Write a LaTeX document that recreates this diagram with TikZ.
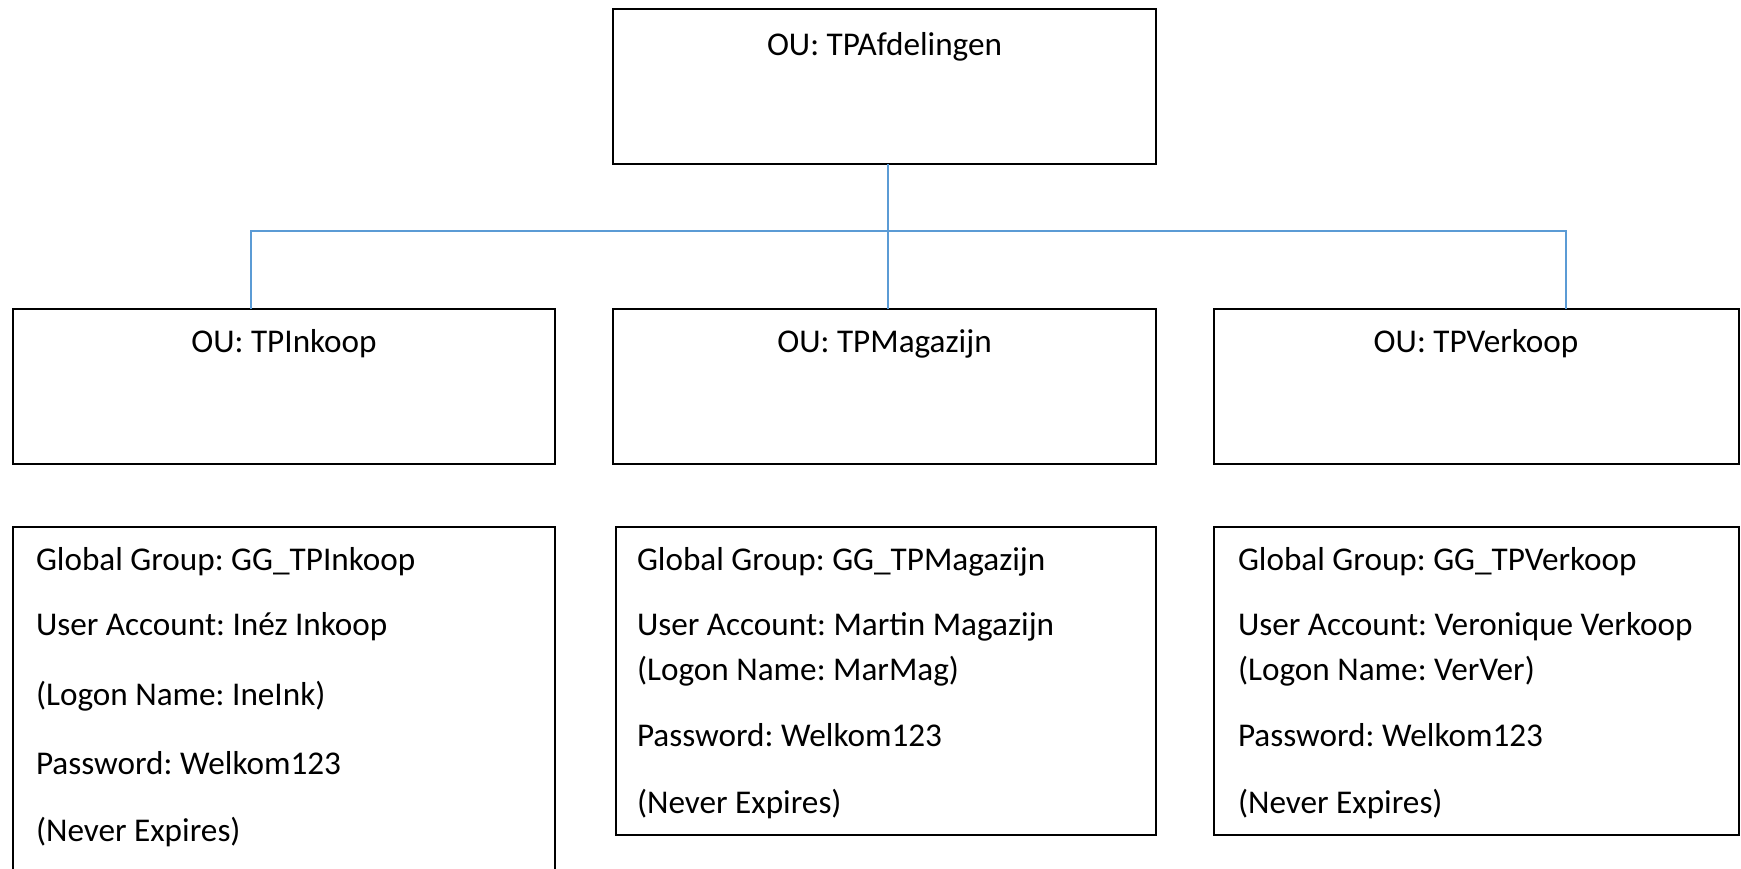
\documentclass[tikz,border=0pt]{standalone}
\usepackage{fontspec}
\setmainfont{Carlito}
\frenchspacing
\begin{document}
\begin{tikzpicture}[x=0.5pt,y=-0.5pt,
  box/.style={draw=black,line width=1pt,inner sep=0pt,outer sep=0pt,anchor=north west},
  txt/.style={inner sep=0pt,outer sep=0pt,font=\fontsize{16.6pt}{20pt}\selectfont,text height=0.72em,text depth=0.22em},
  link/.style={draw=linkblue,line width=0.8pt}]
\definecolor{linkblue}{HTML}{5B9BD5}
\clip (0,0) rectangle (1741,868);
% boxes
\node[box,minimum width=271.5pt,minimum height=77.5pt] (top) at (613,9) {};
\node[box,minimum width=271pt,minimum height=77.5pt] (ink) at (13,309) {};
\node[box,minimum width=271.5pt,minimum height=77.5pt] (mag) at (613,309) {};
\node[box,minimum width=262.5pt,minimum height=77.5pt] (ver) at (1214,309) {};
\node[box,minimum width=271pt,minimum height=176.5pt] (inkb) at (13,527) {};
\node[box,minimum width=270pt,minimum height=154pt] (magb) at (616,527) {};
\node[box,minimum width=262.5pt,minimum height=154pt] (verb) at (1214,527) {};
% titles
\node[txt] (ttop) at (884.5,50) {OU: TPAfdelingen};
\node[txt] (tink) at (284,347) {OU: TPInkoop};
\node[txt] (tmag) at (884.5,347) {OU: TPMagazijn};
\node[txt] (tver) at (1476,347) {OU: TPVerkoop};
% connectors
\coordinate (jl) at (251,231);
\coordinate (jr) at (1566,231);
\coordinate (jm) at (888,231);
\draw[link] (top.south -| jm) -- (mag.north -| jm);
\draw[link] (ink.north -| jl) -- (jl) -- (jr) -- (ver.north -| jr);
% contents left
\node[txt,anchor=west] (i1) at (36,565) {Global Group: GG\_TPInkoop};
\node[txt,anchor=west] (i2) at (36,630) {User Account: Inéz Inkoop};
\node[txt,anchor=west] (i3) at (36,700) {(Logon Name: IneInk)};
\node[txt,anchor=west] (i4) at (36,769) {Password: Welkom123};
\node[txt,anchor=west] (i5) at (36,836) {(Never Expires)};
% contents middle
\node[txt,anchor=west] (m1) at (637,565) {Global Group: GG\_TPMagazijn};
\node[txt,anchor=west] (m2) at (637,630) {User Account: Martin Magazijn};
\node[txt,anchor=west] (m3) at (637,675) {(Logon Name: MarMag)};
\node[txt,anchor=west] (m4) at (637,741) {Password: Welkom123};
\node[txt,anchor=west] (m5) at (637,808) {(Never Expires)};
% contents right
\node[txt,anchor=west] (v1) at (1238,565) {Global Group: GG\_TPVerkoop};
\node[txt,anchor=west] (v2) at (1238,630) {User Account: Veronique Verkoop};
\node[txt,anchor=west] (v3) at (1238,675) {(Logon Name: VerVer)};
\node[txt,anchor=west] (v4) at (1238,741) {Password: Welkom123};
\node[txt,anchor=west] (v5) at (1238,808) {(Never Expires)};
\end{tikzpicture}
\end{document}
